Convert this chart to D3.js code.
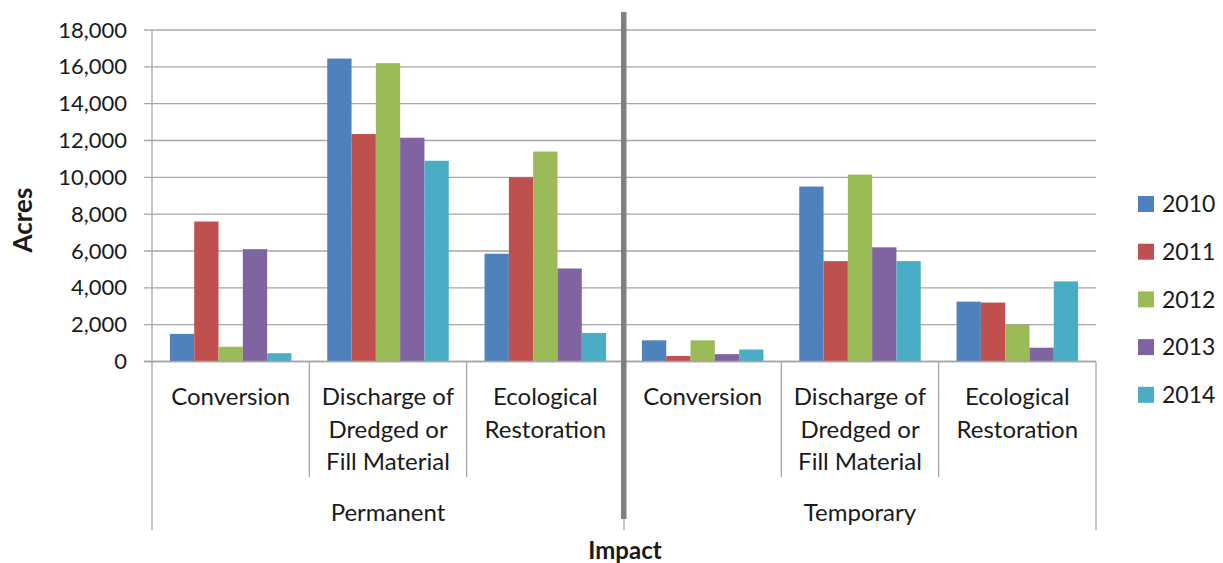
<!DOCTYPE html>
<html>
<head>
<meta charset="utf-8">
<script src="https://cdn.jsdelivr.net/npm/d3@7"></script>
<style>
  html, body { margin: 0; padding: 0; background: #fff; }
  svg { display: block; }
  text { font-family: Lato, "Open Sans", sans-serif; fill: #1a1a1a; }
</style>
</head>
<body>
<svg id="chart" width="1223" height="563"></svg>
<script>
// ---- data ----
const groups = ["Permanent", "Temporary"];
const categories = ["Conversion", "Discharge of Dredged or Fill Material", "Ecological Restoration"];
const categoryLines = [["Conversion"], ["Discharge of", "Dredged or", "Fill Material"], ["Ecological", "Restoration"]];
const years = ["2010", "2011", "2012", "2013", "2014"];
// values per year, ordered: Permanent (Conversion, Discharge, Ecological), Temporary (Conversion, Discharge, Ecological)
const values2010 = [1500, 16450, 5850, 1150, 9500, 3250];
const values2011 = [7600, 12350, 10000, 300, 5450, 3200];
const values2012 = [800, 16200, 11400, 1150, 10150, 2000];
const values2013 = [6100, 12150, 5050, 400, 6200, 750];
const values2014 = [450, 10900, 1550, 650, 5450, 4350];
const yTicks = [0, 2000, 4000, 6000, 8000, 10000, 12000, 14000, 16000, 18000];
const colors = ["#4F81BD", "#C0504D", "#9BBB59", "#8064A2", "#4BACC6"];

const seriesValues = [values2010, values2011, values2012, values2013, values2014];
const slots = [];
groups.forEach((g, gi) => categories.forEach((c, ci) => slots.push({ key: g + "|" + c, group: g, gi, ci, idx: gi * categories.length + ci })));

// ---- layout ----
const svg = d3.select("#chart");
const plotLeft = 152, plotRight = 1096, plotTop = 30, plotBottom = 361.5;

const x0 = d3.scaleBand().domain(slots.map(s => s.key)).range([plotLeft, plotRight]).padding(0);
const x1 = d3.scaleBand().domain(years).range([0, x0.bandwidth()]).paddingInner(0).paddingOuter(0.737);
const y = d3.scaleLinear().domain([0, 18000]).range([plotBottom, plotTop]);
const color = d3.scaleOrdinal().domain(years).range(colors);

// y axis tick labels
const yAxis = d3.axisLeft(y).tickValues(yTicks).tickFormat(d3.format(",")).tickSize(0).tickPadding(25);
const gAxis = svg.append("g").attr("transform", `translate(${plotLeft},0)`).call(yAxis);
gAxis.select(".domain").remove();
gAxis.selectAll("text").style("font-size", "22px").style("font-family", "Lato, sans-serif").attr("fill", "#1a1a1a");

// gridlines
svg.append("g").selectAll("line").data(yTicks).join("line")
  .attr("x1", plotLeft - 8).attr("x2", plotRight)
  .attr("y1", d => y(d)).attr("y2", d => y(d))
  .attr("stroke", "#a6a6a6").attr("stroke-width", 1.3);

// bars
const barG = svg.append("g");
slots.forEach(s => {
  years.forEach((yr, yi) => {
    const v = seriesValues[yi][s.idx];
    barG.append("rect")
      .attr("x", x0(s.key) + x1(yr))
      .attr("y", y(v))
      .attr("width", x1.bandwidth())
      .attr("height", y(0) - y(v))
      .attr("fill", color(yr));
  });
});

// zero baseline
svg.append("line").attr("x1", plotLeft - 8).attr("x2", plotRight).attr("y1", y(0)).attr("y2", y(0))
  .attr("stroke", "#a6a6a6").attr("stroke-width", 1.3);

// y axis line
svg.append("line").attr("x1", plotLeft).attr("x2", plotLeft).attr("y1", plotTop).attr("y2", plotBottom)
  .attr("stroke", "#a6a6a6").attr("stroke-width", 1.3);

// category dividers
const innerBottom = 477, outerBottom = 530;
const dividerXs = slots.map(s => x0(s.key)).concat([plotRight]);
svg.append("g").selectAll("line").data(dividerXs).join("line")
  .attr("x1", d => d).attr("x2", d => d)
  .attr("y1", plotBottom)
  .attr("y2", (d, i) => (i % categories.length === 0) ? outerBottom : innerBottom)
  .attr("stroke", "#a6a6a6").attr("stroke-width", 1.3);

// category labels
slots.forEach(s => {
  const cx = x0(s.key) + x0.bandwidth() / 2;
  const t = svg.append("text").attr("text-anchor", "middle").style("font-size", "24px");
  categoryLines[s.ci].forEach((ln, li) => {
    t.append("tspan").attr("x", cx).attr("y", 405 + li * 32.5).text(ln);
  });
});

// group labels
groups.forEach((g, gi) => {
  const start = x0(slots[gi * categories.length].key);
  const end = x0(slots[gi * categories.length + categories.length - 1].key) + x0.bandwidth();
  svg.append("text").attr("x", (start + end) / 2).attr("y", 521).attr("text-anchor", "middle")
    .style("font-size", "24px").text(g);
});

// thick separator between groups
const sepX = x0(slots[categories.length].key);
svg.append("rect").attr("x", sepX - 3).attr("y", 12).attr("width", 5.5).attr("height", 507).attr("fill", "#808080");

// axis titles
svg.append("text").attr("transform", `translate(32,220) rotate(-90)`).attr("text-anchor", "middle")
  .style("font-size", "26px").style("font-weight", "bold").text("Acres");
svg.append("text").attr("x", sepX + 1).attr("y", 559).attr("text-anchor", "middle")
  .style("font-size", "24px").style("font-weight", "bold").text("Impact");

// legend
const legend = svg.append("g");
years.forEach((yr, i) => {
  const cy = 204 + i * 47.7;
  legend.append("rect").attr("x", 1138).attr("y", cy - 8).attr("width", 16).attr("height", 16).attr("fill", color(yr));
  legend.append("text").attr("x", 1162).attr("y", cy + 8.3).style("font-size", "23px").text(yr);
});
</script>
</body>
</html>
